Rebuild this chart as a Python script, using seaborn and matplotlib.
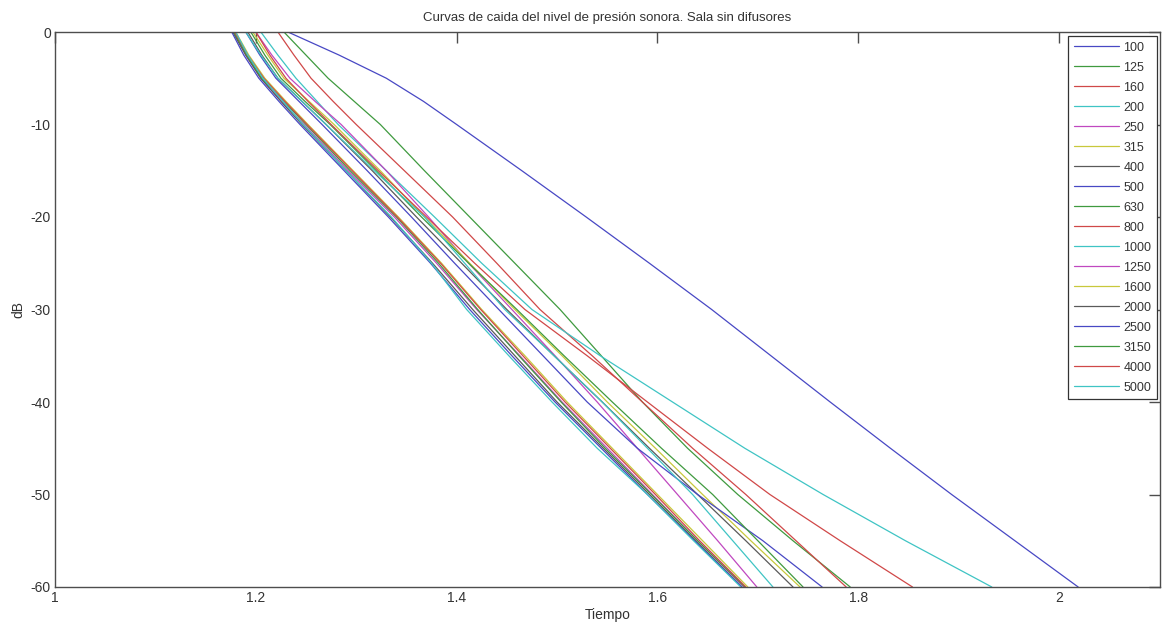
import matplotlib
matplotlib.use("Agg")
import matplotlib.pyplot as plt
import seaborn as sns
import pandas as pd

# Level grid (dB) at which each decay curve was read
DB = [0, -2.5, -5, -7.5, -10, -15, -20, -25, -30, -35, -40, -45, -50, -55, -60]

FREQS = ["100", "125", "160", "200", "250", "315", "400", "500", "630",
         "800", "1000", "1250", "1600", "2000", "2500", "3150", "4000", "5000"]

# time (s) at each level of DB, per band
T_100  = [1.232, 1.283, 1.330, 1.367, 1.400, 1.465, 1.529, 1.592, 1.654, 1.713, 1.772, 1.832, 1.893, 1.956, 2.019]
T_125  = [1.228, 1.250, 1.272, 1.298, 1.324, 1.368, 1.413, 1.458, 1.503, 1.544, 1.585, 1.630, 1.680, 1.735, 1.792]
T_160  = [1.222, 1.238, 1.255, 1.277, 1.300, 1.348, 1.396, 1.440, 1.483, 1.535, 1.585, 1.635, 1.688, 1.738, 1.788]
T_200  = [1.205, 1.222, 1.240, 1.261, 1.282, 1.330, 1.378, 1.425, 1.475, 1.543, 1.615, 1.687, 1.765, 1.847, 1.933]
T_250  = [1.200, 1.216, 1.234, 1.259, 1.285, 1.330, 1.372, 1.412, 1.455, 1.498, 1.540, 1.580, 1.620, 1.660, 1.699]
T_315  = [1.197, 1.212, 1.228, 1.253, 1.278, 1.324, 1.368, 1.413, 1.458, 1.505, 1.550, 1.598, 1.645, 1.693, 1.742]
T_400  = [1.192, 1.206, 1.222, 1.246, 1.270, 1.316, 1.360, 1.405, 1.450, 1.497, 1.545, 1.592, 1.640, 1.688, 1.735]
T_500  = [1.190, 1.204, 1.220, 1.243, 1.266, 1.311, 1.355, 1.398, 1.442, 1.486, 1.530, 1.580, 1.640, 1.705, 1.764]
T_630  = [1.195, 1.209, 1.225, 1.249, 1.274, 1.320, 1.365, 1.412, 1.460, 1.507, 1.555, 1.604, 1.655, 1.700, 1.745]
T_800  = [1.200, 1.214, 1.230, 1.252, 1.275, 1.322, 1.370, 1.418, 1.468, 1.530, 1.590, 1.650, 1.712, 1.782, 1.854]
T_1000 = [1.190, 1.205, 1.222, 1.246, 1.270, 1.318, 1.368, 1.408, 1.448, 1.497, 1.545, 1.590, 1.635, 1.675, 1.715]
T_1250 = [1.178, 1.190, 1.205, 1.226, 1.248, 1.292, 1.338, 1.380, 1.420, 1.463, 1.505, 1.550, 1.595, 1.640, 1.686]
T_1600 = [1.180, 1.193, 1.209, 1.230, 1.252, 1.297, 1.342, 1.385, 1.425, 1.468, 1.510, 1.555, 1.600, 1.645, 1.690]
T_2000 = [1.177, 1.190, 1.205, 1.225, 1.246, 1.290, 1.334, 1.376, 1.416, 1.458, 1.500, 1.546, 1.592, 1.638, 1.684]
T_2500 = [1.176, 1.188, 1.203, 1.223, 1.244, 1.288, 1.332, 1.374, 1.413, 1.455, 1.498, 1.544, 1.590, 1.637, 1.684]
T_3150 = [1.178, 1.191, 1.206, 1.228, 1.250, 1.294, 1.340, 1.382, 1.421, 1.462, 1.504, 1.548, 1.594, 1.640, 1.687]
T_4000 = [1.179, 1.192, 1.208, 1.229, 1.251, 1.296, 1.341, 1.384, 1.424, 1.466, 1.508, 1.553, 1.598, 1.642, 1.688]
T_5000 = [1.180, 1.192, 1.207, 1.227, 1.247, 1.290, 1.335, 1.375, 1.410, 1.452, 1.495, 1.540, 1.590, 1.636, 1.683]

CURVES = [T_100, T_125, T_160, T_200, T_250, T_315, T_400, T_500, T_630,
          T_800, T_1000, T_1250, T_1600, T_2000, T_2500, T_3150, T_4000, T_5000]

XTICKS = [1, 1.2, 1.4, 1.6, 1.8, 2]
XTICK_LABELS = ["1", "1.2", "1.4", "1.6", "1.8", "2"]
YTICKS = [0, -10, -20, -30, -40, -50, -60]
YTICK_LABELS = ["0", "-10", "-20", "-30", "-40", "-50", "-60"]

TITLE = "Curvas de caida del nivel de presión sonora. Sala sin difusores"
XLABEL = "Tiempo"
YLABEL = "dB"

# MATLAB-like colour cycle (as it appears, slightly faded)
CYCLE = ["#4848c4", "#3f9a3f", "#d04848", "#3fc4c4", "#c048c0", "#c8c83c", "#5a5a5a"]
PALETTE = [CYCLE[i % len(CYCLE)] for i in range(len(FREQS))]

rows = []
for f, ts in zip(FREQS, CURVES):
    for t, d in zip(ts, DB):
        rows.append({"t": t, "dB": d, "freq": f})
df = pd.DataFrame(rows)

sns.set_theme(style="white")
plt.rcParams["font.family"] = ["Liberation Sans", "DejaVu Sans"]

fig = plt.figure(figsize=(11.62, 6.26), dpi=100)
ax = fig.add_axes([55 / 1162, 39 / 626, (1159.5 - 55) / 1162, 555 / 626])

sns.lineplot(data=df, x="t", y="dB", hue="freq", hue_order=FREQS,
             palette=PALETTE, estimator=None, sort=False, linewidth=0.9,
             legend=False, ax=ax)

ax.set_xlim(1, 2.1)
ax.set_ylim(-60, 0)
ax.set_xticks(XTICKS)
ax.set_xticklabels(XTICK_LABELS)
ax.set_yticks(YTICKS)
ax.set_yticklabels(YTICK_LABELS)

spine_col = "#4d4d4d"
for s in ax.spines.values():
    s.set_visible(True)
    s.set_color(spine_col)
    s.set_linewidth(1.0)
ax.tick_params(direction="in", length=8, width=1.0, color=spine_col,
               top=True, right=True, labelsize=10, labelcolor="#333333", pad=3)

ax.set_xlabel(XLABEL, fontsize=10, color="#333333", labelpad=2)
ax.set_ylabel(YLABEL, fontsize=10, color="#333333", labelpad=4)
ax.set_title(TITLE, fontsize=9.5, color="#333333", pad=8)

lines = ax.get_lines()[:len(FREQS)]
leg = ax.legend(lines, FREQS, loc="upper right", bbox_to_anchor=(0.9977, 0.9928),
                borderaxespad=0, fontsize=9, labelspacing=0.64, handlelength=3.6,
                handletextpad=0.35, borderpad=0.45, frameon=True, fancybox=False,
                framealpha=1, edgecolor="#333333")
leg.get_frame().set_linewidth(0.9)
for txt in leg.get_texts():
    txt.set_color("#333333")

fig.savefig("out.png", dpi=100, facecolor="white")
